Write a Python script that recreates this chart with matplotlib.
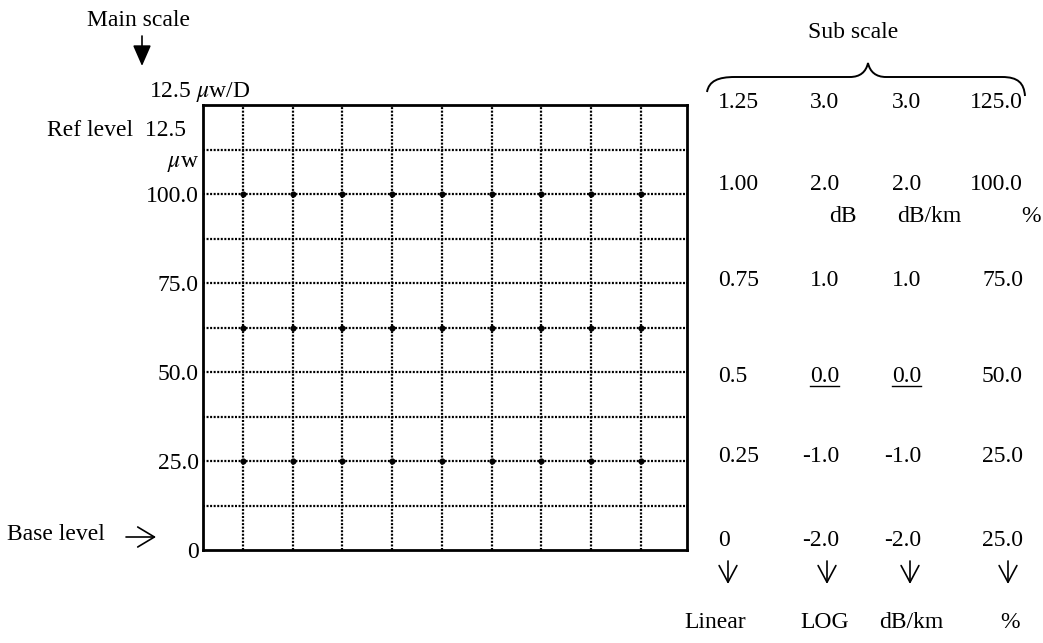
import matplotlib
matplotlib.use("Agg")
import matplotlib.pyplot as plt
from matplotlib.path import Path
from matplotlib.patches import PathPatch, FancyArrowPatch
from matplotlib.lines import Line2D

plt.rcParams['font.family'] = ['Liberation Serif', 'DejaVu Serif']
plt.rcParams['mathtext.fontset'] = 'stix'

# ---------------- data ----------------
main_ticks = [0, 25, 50, 75, 100]
main_tick_labels = ["0", "25.0", "50.0", "75.0", "100.0"]
y_max = 125
grid_rows = [12.5, 25, 37.5, 50, 62.5, 75, 87.5, 100, 112.5]
grid_cols = [1, 2, 3, 4, 5, 6, 7, 8, 9]
dot_rows = [100, 62.5, 25]

sub_levels = [125, 100, 75, 50, 25, 0]
sub_linear = ["1.25", "1.00", "0.75", "0.5", "0.25", "0"]
sub_log = ["3.0", "2.0", "1.0", "0.0", "-1.0", "-2.0"]
sub_dbkm = ["3.0", "2.0", "1.0", "0.0", "-1.0", "-2.0"]
sub_pct = ["125.0", "100.0", "75.0", "50.0", "25.0", "25.0"]
sub_units = ["dB", "dB/km", "%"]
sub_modes = ["Linear", "LOG", "dB/km", "%"]
underlined = "0.0"

# ---------------- layout ----------------
W, H = 1043, 643
DPI = 100
FS = 17
fig = plt.figure(figsize=(W / DPI, H / DPI), dpi=DPI, facecolor='white')

L, R, T, B = 203, 687, 105, 550
ax = fig.add_axes([L / W, 1 - B / H, (R - L) / W, (B - T) / H])
ax.set_xlim(0.2, 9.93)
ax.set_ylim(0, y_max)

for y in grid_rows:
    ax.axhline(y, color='black', lw=1.6, ls=(0, (0.9, 0.7)), zorder=1)
for x in grid_cols:
    ax.axvline(x, color='black', lw=1.6, ls=(0, (0.9, 0.7)), zorder=1)
for y in dot_rows:
    ax.plot(grid_cols, [y] * len(grid_cols), ls='none', marker='o',
            ms=3.4, color='black', zorder=2)

for s in ax.spines.values():
    s.set_linewidth(2.0)
    s.set_color('black')
ax.set_xticks([])
ax.set_yticks(main_ticks)
ax.set_yticklabels(main_tick_labels, fontsize=FS)
ax.tick_params(axis='y', length=0, pad=3.2)


def fx(x):
    return x / W


def fy(y):
    return 1 - y / H


def txt(x, y, s, ha='left', va='center', **kw):
    return fig.text(fx(x), fy(y), s, ha=ha, va=va, fontsize=FS, color='black', **kw)


def level_px(level):
    return B - (B - T) * level / y_max


def arrow(p0, p1, style):
    fig.patches.append(FancyArrowPatch(
        (fx(p0[0]), fy(p0[1])), (fx(p1[0]), fy(p1[1])), transform=fig.transFigure,
        arrowstyle=style, mutation_scale=16, color='black', lw=1.2,
        shrinkA=0, shrinkB=0))


# ---------------- main scale annotations ----------------
txt(87, 20, "Main scale")
arrow((142, 36), (142, 66), '-|>,head_length=0.8,head_width=0.35')
txt(149, 92, r"12.5 $\mu$w/D")
txt(186, 131, "Ref level  12.5", ha='right')
txt(199, 164, r"$\mu$w", ha='right')

txt(7, 535, "Base level")
arrow((126, 537), (156, 537), '->,head_length=0.75,head_width=0.45')

# ---------------- sub scale ----------------
txt(853, 32, "Sub scale", ha='center')
brace_px = [(707, 92), (709, 81), (718, 77), (735, 77),
            (850, 77),
            (860, 77), (866, 72), (868, 63),
            (870, 72), (876, 77), (886, 77),
            (1002, 77),
            (1018, 77), (1024, 83), (1025, 96)]
codes = [Path.MOVETO, Path.CURVE4, Path.CURVE4, Path.CURVE4,
         Path.LINETO,
         Path.CURVE4, Path.CURVE4, Path.CURVE4,
         Path.CURVE4, Path.CURVE4, Path.CURVE4,
         Path.LINETO,
         Path.CURVE4, Path.CURVE4, Path.CURVE4]
brace = Path([(fx(x), fy(y)) for x, y in brace_px], codes)
fig.patches.append(PathPatch(brace, transform=fig.transFigure, fill=False,
                             lw=1.4, color='black'))

row_nudge = [-3, -10, -2, 5, -5, -10]
col_specs = [(sub_linear, 718, 'left'), (sub_log, 839, 'right'),
             (sub_dbkm, 921, 'right'), (sub_pct, 1023, 'right')]
under_texts = []
for values, x, ha in col_specs:
    for lev, nud, v in zip(sub_levels, row_nudge, values):
        t = txt(x, level_px(lev) + nud, v, ha=ha)
        if v == underlined:
            under_texts.append(t)

unit_x = [843, 929, 1031]
for x, u in zip(unit_x, sub_units):
    txt(x, 217, u, ha='center')

arrow_x = [728, 827, 910, 1008]
for x in arrow_x:
    arrow((x, 561), (x, 584), '->,head_length=0.75,head_width=0.4')

mode_x = [715, 825, 911, 1010]
for x, m in zip(mode_x, sub_modes):
    txt(x, 622, m, ha='center')

# underline the 0.0 reference values
fig.canvas.draw()
r = fig.canvas.get_renderer()
for t in under_texts:
    bb = t.get_window_extent(renderer=r)
    yb = bb.y0 + 2
    fig.lines.append(Line2D([bb.x0 / W, bb.x1 / W], [yb / H, yb / H],
                            transform=fig.transFigure, color='black', lw=1.0))

fig.savefig("out.png", dpi=DPI, facecolor='white')
